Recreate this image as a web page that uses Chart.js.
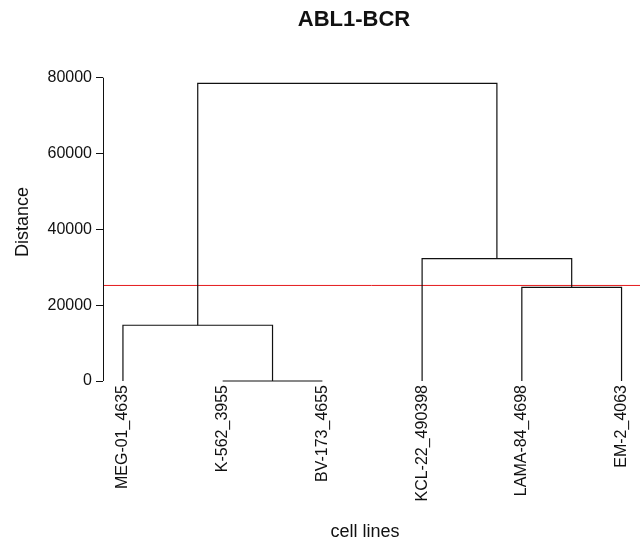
<!DOCTYPE html>
<html>
<head>
<meta charset="utf-8">
<title>ABL1-BCR</title>
<script src="https://cdn.jsdelivr.net/npm/chart.js@4.4.1/dist/chart.umd.min.js"></script>
<style>
  html, body { margin: 0; padding: 0; background: #fff; }
  #wrap { width: 640px; height: 540px; }
</style>
</head>
<body>
<div id="wrap"><canvas id="dendro" width="640" height="540"></canvas></div>
<script>
// Leaves, in the order they are drawn (left to right)
const leaves = ['MEG-01_4635', 'K-562_3955', 'BV-173_4655', 'KCL-22_490398', 'LAMA-84_4698', 'EM-2_4063'];

// hclust-style merges: negative = leaf (1-based), positive = earlier merge
const mergeLeft = [-2, -1, -5, -4, 2];
const mergeRight = [-3, 1, -6, 3, 4];
const mergeHeight = [0, 14700, 24700, 32300, 78500];

// Cut line and axis ticks
const cutHeight = 25200;
const yTicks = [0, 20000, 40000, 60000, 80000];

(function () {
  'use strict';

  const FONT = '"Liberation Sans", Arial, Helvetica, sans-serif';
  const INK = '#111';

  /**
   * Node position: x = leaf slot (or mean of children), y = merge height.
   */
  const nodes = [];
  const nodeOf = (id) => (id < 0 ? { x: -id, h: 0 } : nodes[id - 1]);

  const datasets = [];
  mergeHeight.forEach((h, i) => {
    const l = nodeOf(mergeLeft[i]);
    const r = nodeOf(mergeRight[i]);
    nodes.push({ x: (l.x + r.x) / 2, h: h });
    datasets.push({
      data: [
        { x: l.x, y: l.h },
        { x: l.x, y: h },
        { x: r.x, y: h },
        { x: r.x, y: r.h }
      ],
      borderColor: INK,
      borderWidth: 1.2,
      showLine: true,
      pointRadius: 0,
      tension: 0,
      clip: false
    });
  });

  const xMin = 0.8;
  const xMax = 6.185;

  // Horizontal cut line
  datasets.push({
    data: [{ x: xMin, y: cutHeight }, { x: xMax, y: cutHeight }],
    borderColor: '#e41a1c',
    borderWidth: 1,
    showLine: true,
    pointRadius: 0,
    clip: false
  });

  /**
   * R-style axis line (only from first to last tick) and the titles.
   */
  const decorations = {
    id: 'decorations',
    afterDraw(chart) {
      const { ctx, chartArea, scales } = chart;
      const y = scales.y;
      const ax = Math.round(chartArea.left) + 0.5;

      ctx.save();
      ctx.strokeStyle = INK;
      ctx.lineWidth = 1;
      ctx.beginPath();
      ctx.moveTo(ax, y.getPixelForValue(yTicks[0]));
      ctx.lineTo(ax, y.getPixelForValue(yTicks[yTicks.length - 1]));
      ctx.stroke();

      ctx.fillStyle = INK;
      ctx.textAlign = 'center';
      ctx.textBaseline = 'middle';

      ctx.font = 'bold 22px ' + FONT;
      ctx.fillText('ABL1-BCR', 354, 20);

      ctx.font = '18px ' + FONT;
      ctx.fillText('cell lines', 365, 532);

      ctx.translate(23, 222);
      ctx.rotate(-Math.PI / 2);
      ctx.fillText('Distance', 0, 0);
      ctx.restore();
    }
  };

  new Chart(document.getElementById('dendro'), {
    type: 'scatter',
    data: { datasets },
    options: {
      responsive: false,
      animation: false,
      devicePixelRatio: 1,
      layout: { padding: { top: 71.5, left: 0, right: 0, bottom: 0 } },
      plugins: {
        legend: { display: false },
        tooltip: { enabled: false }
      },
      scales: {
        x: {
          type: 'linear',
          min: xMin,
          max: xMax,
          position: 'bottom',
          grid: { display: false, drawTicks: false },
          border: { display: false },
          afterBuildTicks: (s) => { s.ticks = leaves.map((_, i) => ({ value: i + 1 })); },
          afterFit: (s) => {
            s.height = 159;
            s.paddingLeft = 0;
            s.paddingRight = 0;
          },
          ticks: {
            autoSkip: false,
            minRotation: 90,
            maxRotation: 90,
            padding: 4,
            color: INK,
            font: { family: FONT, size: 16 },
            callback: (v) => leaves[Math.round(v) - 1]
          }
        },
        y: {
          type: 'linear',
          min: 0,
          max: 81640,
          grid: { drawOnChartArea: false, tickLength: 7, color: INK, lineWidth: 1 },
          border: { display: false },
          afterBuildTicks: (s) => { s.ticks = yTicks.map((v) => ({ value: v })); },
          afterFit: (s) => {
            s.width = 103;
            s.paddingTop = 0;
            s.paddingBottom = 0;
          },
          ticks: {
            padding: 4,
            color: INK,
            font: { family: FONT, size: 16 },
            callback: (v) => String(v)
          }
        }
      }
    },
    plugins: [decorations]
  });
})();
</script>
</body>
</html>
